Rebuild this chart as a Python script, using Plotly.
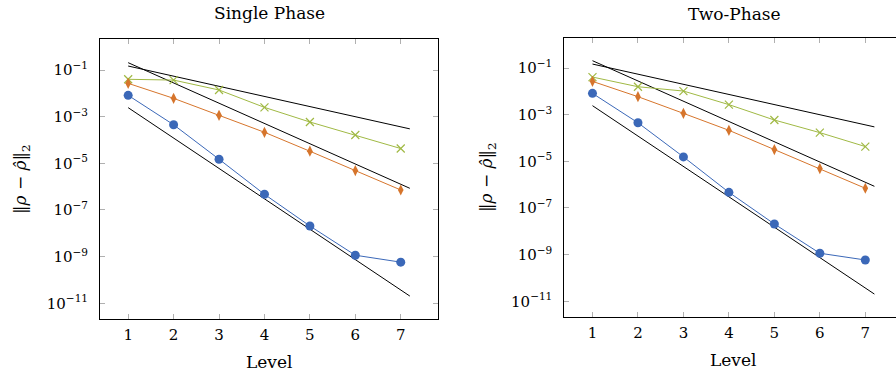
import plotly.graph_objects as go

levels = [1, 2, 3, 4, 5, 6, 7]

# Single Phase
sp_blue = [8.2e-3, 4.5e-4, 1.5e-5, 4.7e-7, 2.06e-8, 1.15e-9, 5.8e-10]
sp_orange = [2.68e-2, 6.1e-3, 1.14e-3, 2.14e-4, 3.3e-5, 4.9e-6, 7.2e-7]
sp_green = [4.0e-2, 3.7e-2, 1.39e-2, 2.5e-3, 5.9e-4, 1.64e-4, 4.3e-5]

# Two-Phase
tp_blue = [8.2e-3, 4.5e-4, 1.55e-5, 4.7e-7, 2.06e-8, 1.15e-9, 5.9e-10]
tp_orange = [2.68e-2, 5.9e-3, 1.14e-3, 2.14e-4, 3.2e-5, 4.9e-6, 7.0e-7]
tp_green = [4.1e-2, 1.58e-2, 1.03e-2, 2.7e-3, 5.9e-4, 1.7e-4, 4.3e-5]

# Reference slope lines (endpoints)
ref_x = [1, 7.2]
ref1 = [0.148, 3.0e-4]
ref2 = [0.206, 8.5e-7]
ref3 = [2.43e-3, 2.04e-11]

ytick_vals = [1e-1, 1e-3, 1e-5, 1e-7, 1e-9, 1e-11]
ytick_text = ["10<sup>−1</sup>", "10<sup>−3</sup>", "10<sup>−5</sup>",
              "10<sup>−7</sup>", "10<sup>−9</sup>", "10<sup>−11</sup>"]

BLUE = "#3b68b8"
ORANGE = "#d6752c"
GREEN = "#a0b944"
FONT = "DejaVu Serif"

fig = go.Figure()

def add_panel(xa, ya, blue, orange, green):
    for ry in (ref1, ref2, ref3):
        fig.add_trace(go.Scatter(x=ref_x, y=ry, mode="lines",
                                 line=dict(color="black", width=1),
                                 xaxis=xa, yaxis=ya, showlegend=False))
    fig.add_trace(go.Scatter(x=levels, y=green, mode="lines+markers",
                             line=dict(color=GREEN, width=1),
                             marker=dict(symbol="x-thin", size=8,
                                         line=dict(color=GREEN, width=1.2)),
                             xaxis=xa, yaxis=ya, showlegend=False))
    fig.add_trace(go.Scatter(x=levels, y=orange, mode="lines+markers",
                             line=dict(color=ORANGE, width=1),
                             marker=dict(symbol="diamond-tall", size=8, color=ORANGE),
                             xaxis=xa, yaxis=ya, showlegend=False))
    fig.add_trace(go.Scatter(x=levels, y=blue, mode="lines+markers",
                             line=dict(color=BLUE, width=1),
                             marker=dict(symbol="circle", size=9, color=BLUE),
                             xaxis=xa, yaxis=ya, showlegend=False))

add_panel("x", "y", sp_blue, sp_orange, sp_green)
add_panel("x2", "y2", tp_blue, tp_orange, tp_green)

tick_font = dict(family=FONT, size=15, color="black")
common_x = dict(tickvals=levels, ticks="inside", ticklen=5, tickcolor="#b0b0b0",
                showline=True, linecolor="black", linewidth=1, showgrid=False,
                zeroline=False, tickfont=tick_font, ticklabelstandoff=2)
common_y = dict(type="log", tickvals=ytick_vals, ticktext=ytick_text,
                ticks="inside", ticklen=5, tickcolor="#b0b0b0",
                showline=True, linecolor="black", linewidth=1, showgrid=False,
                zeroline=False, tickfont=tick_font, ticklabelstandoff=8)

fig.update_layout(
    width=896, height=378,
    margin=dict(l=0, r=0, t=0, b=0),
    paper_bgcolor="white", plot_bgcolor="white",
    xaxis=dict(domain=[100/896, 438/896], range=[0.38, 7.82], anchor="y",
               mirror="ticks", **common_x),
    yaxis=dict(domain=[1-319.3/378, 1-39.3/378], range=[-11.686, 0.316], anchor="x",
               mirror="ticks", **common_y),
    xaxis2=dict(domain=[564.3/896, 1.0], range=[0.38, 7.675], anchor="y2",
                mirror="ticks", **common_x),
    yaxis2=dict(domain=[1-317.3/378, 1-37.7/378], range=[-11.686, 0.30], anchor="x2",
                mirror=False, **common_y),
    font=dict(family=FONT, color="black"),
)

ann_font = dict(family=FONT, size=17, color="black")
fig.add_annotation(text="Single Phase", x=269/896, y=1-13/378, xref="paper", yref="paper",
                   showarrow=False, font=ann_font, xanchor="center", yanchor="middle")
fig.add_annotation(text="Two-Phase", x=734/896, y=1-14/378, xref="paper", yref="paper",
                   showarrow=False, font=ann_font, xanchor="center", yanchor="middle")
fig.add_annotation(text="Level", x=269/896, y=1-362/378, xref="paper", yref="paper",
                   showarrow=False, font=ann_font, xanchor="center", yanchor="middle")
fig.add_annotation(text="Level", x=733/896, y=1-359.5/378, xref="paper", yref="paper",
                   showarrow=False, font=ann_font, xanchor="center", yanchor="middle")
ytitle = "‖<i>ρ</i> − <i>ρ̂</i>‖<sub>2</sub>"
fig.add_annotation(text=ytitle, x=22/896, y=1-179/378, xref="paper", yref="paper",
                   showarrow=False, font=ann_font, textangle=-90,
                   xanchor="center", yanchor="middle")
fig.add_annotation(text=ytitle, x=487/896, y=1-177/378, xref="paper", yref="paper",
                   showarrow=False, font=ann_font, textangle=-90,
                   xanchor="center", yanchor="middle")

fig.write_html("out.html", config={"displayModeBar": False},
               post_script="document.body.style.margin='0';document.body.style.overflow='hidden';")
